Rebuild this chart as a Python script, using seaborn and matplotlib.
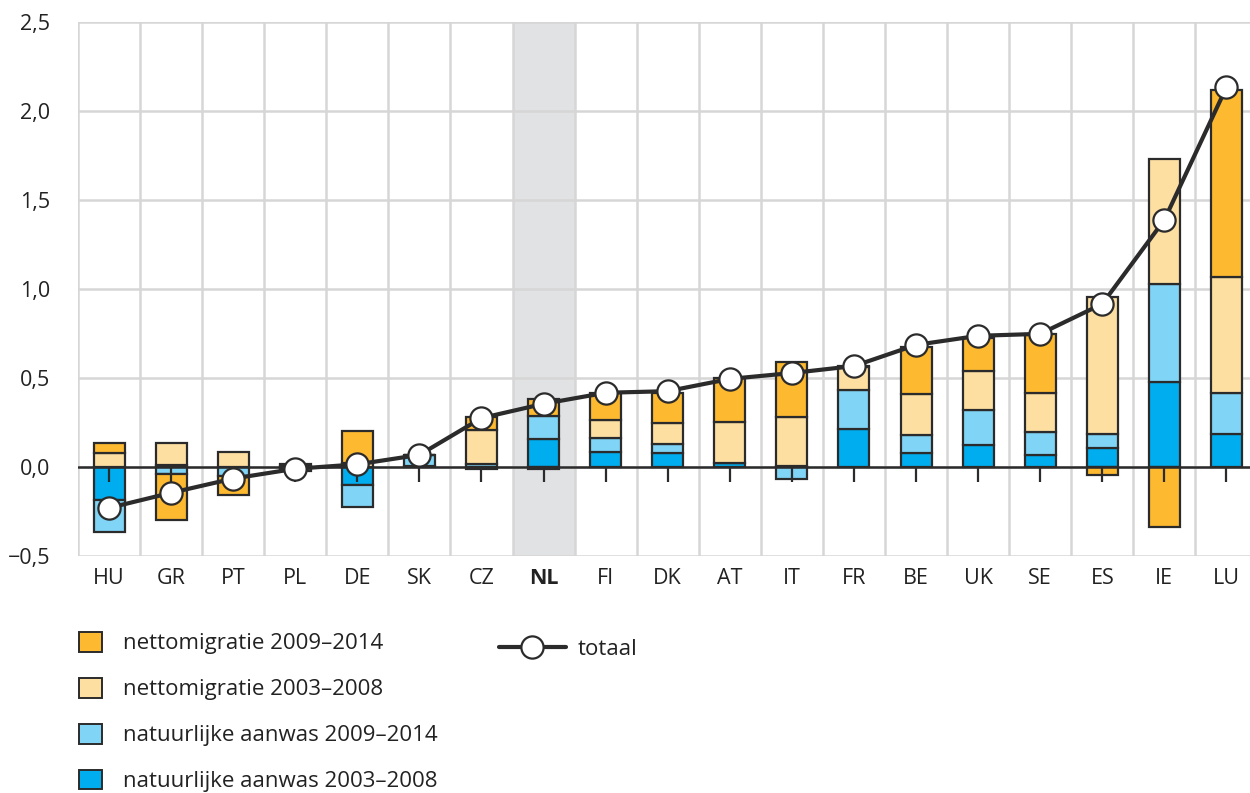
import matplotlib
matplotlib.use("Agg")
import matplotlib.pyplot as plt
import matplotlib.patches as mpatches
from matplotlib.lines import Line2D
import numpy as np
import pandas as pd
import seaborn as sns

# --- data (percent per year) ---
countries = ["HU", "GR", "PT", "PL", "DE", "SK", "CZ", "NL", "FI", "DK",
             "AT", "IT", "FR", "BE", "UK", "SE", "ES", "IE", "LU"]

nat_0308 = [-0.185, 0.01, 0.0, 0.005, -0.10, 0.005, -0.01, 0.155, 0.085, 0.08,
            0.02, 0.005, 0.215, 0.08, 0.125, 0.07, 0.105, 0.475, 0.185]
nat_0914 = [-0.18, -0.04, -0.05, -0.005, -0.125, 0.06, 0.015, 0.13, 0.08, 0.05,
            0.005, -0.065, 0.22, 0.10, 0.195, 0.125, 0.08, 0.555, 0.23]
mig_0308 = [0.077, 0.125, 0.085, 0.01, 0.02, 0.0, 0.195, -0.01, 0.10, 0.115,
            0.23, 0.275, 0.125, 0.23, 0.22, 0.22, 0.77, 0.70, 0.65]
mig_0914 = [0.056, -0.255, -0.11, -0.015, 0.185, 0.0, 0.07, 0.095, 0.15, 0.17,
            0.245, 0.31, 0.01, 0.265, 0.185, 0.33, -0.045, -0.335, 1.055]
totaal = [-0.23, -0.145, -0.065, -0.01, 0.015, 0.068, 0.275, 0.355, 0.417, 0.426,
          0.495, 0.528, 0.567, 0.686, 0.737, 0.748, 0.916, 1.388, 2.133]

series_labels = ["natuurlijke aanwas 2003–2008", "natuurlijke aanwas 2009–2014",
                 "nettomigratie 2003–2008", "nettomigratie 2009–2014"]
series_colors = ["#00aeef", "#80d4f6", "#fedfa2", "#fdb930"]

highlight = "NL"
yticks = [-0.5, 0.0, 0.5, 1.0, 1.5, 2.0, 2.5]
ytick_labels = ["−0,5", "0,0", "0,5", "1,0", "1,5", "2,0", "2,5"]

sns.set_theme(style="white")
plt.rcParams["font.family"] = ["Open Sans", "DejaVu Sans"]

edge = "#2b2b2b"
grid_c = "#d6d6d6"
txt_c = "#222222"

fig = plt.figure(figsize=(12.5, 7.93), dpi=100)
ax = fig.add_axes([78 / 1250, 1 - 556 / 793, 1 - 78 / 1250, (556 - 22) / 793])

x = np.arange(len(countries))
hi = countries.index(highlight)
ax.axvspan(hi - 0.5, hi + 0.5, color="#e1e2e4", zorder=0, lw=0)

# grid
for yv in yticks:
    ax.axhline(yv, color=grid_c, lw=1.8, zorder=0.5)
for xv in np.arange(-0.5, len(countries), 1.0):
    ax.axvline(xv, color=grid_c, lw=1.8, zorder=0.5)

# stacked bars: positives stack up from 0, negatives stack down from 0
pos_base = np.zeros(len(countries))
neg_base = np.zeros(len(countries))
for vals, col in zip([nat_0308, nat_0914, mig_0308, mig_0914], series_colors):
    v = np.asarray(vals, dtype=float)
    base = np.where(v >= 0, pos_base, neg_base)
    ax.bar(x, v, bottom=base, width=0.5, color=col, edgecolor=edge,
           linewidth=1.6, zorder=2)
    pos_base = pos_base + np.clip(v, 0, None)
    neg_base = neg_base + np.clip(v, None, 0)

ax.axhline(0, color=edge, lw=1.8, zorder=3)
ax.plot(x, np.zeros(len(x)), ls="none", marker=3, markersize=11,
        mew=1.6, color=edge, zorder=3)

df_tot = pd.DataFrame({"x": x, "totaal": totaal})
sns.lineplot(data=df_tot, x="x", y="totaal", ax=ax, color=edge, lw=3.0,
             marker="o", markersize=16, markerfacecolor="white",
             markeredgecolor=edge, markeredgewidth=1.6, zorder=5)

ax.set_xlim(-0.5, len(countries) - 0.62)
ax.set_ylim(-0.5, 2.5)
ax.set_xticks(x)
ax.set_xticklabels(countries, fontsize=15.5, color=txt_c)
for lbl in ax.get_xticklabels():
    if lbl.get_text() == highlight:
        lbl.set_fontweight("bold")
ax.set_yticks(yticks)
ax.set_yticklabels(ytick_labels, fontsize=15.5, color=txt_c)
ax.tick_params(axis="both", length=0)
ax.tick_params(axis="x", pad=9)
ax.tick_params(axis="y", pad=20)
ax.set_xlabel("")
ax.set_ylabel("")
for s in ax.spines.values():
    s.set_visible(False)

# legends
handles = [mpatches.Patch(facecolor=c, edgecolor=edge, lw=1.4)
           for c in series_colors[::-1]]
leg1 = fig.legend(handles, series_labels[::-1], loc="upper left",
                  bbox_to_anchor=(70 / 1250, 1 - 623 / 793), frameon=False,
                  fontsize=16, handlelength=1.05, handleheight=1.0,
                  handletextpad=0.95, labelspacing=1.05, borderaxespad=0,
                  labelcolor=txt_c)
line_h = Line2D([], [], color=edge, lw=3.0, marker="o", markersize=16,
                markerfacecolor="white", markeredgecolor=edge, markeredgewidth=1.6)
leg2 = fig.legend([line_h], ["totaal"], loc="upper left",
                  bbox_to_anchor=(490 / 1250, 1 - 630 / 793), frameon=False,
                  fontsize=16, handlelength=3.0, handletextpad=0.55,
                  borderaxespad=0, labelcolor=txt_c)

fig.savefig("out.png", dpi=100)
